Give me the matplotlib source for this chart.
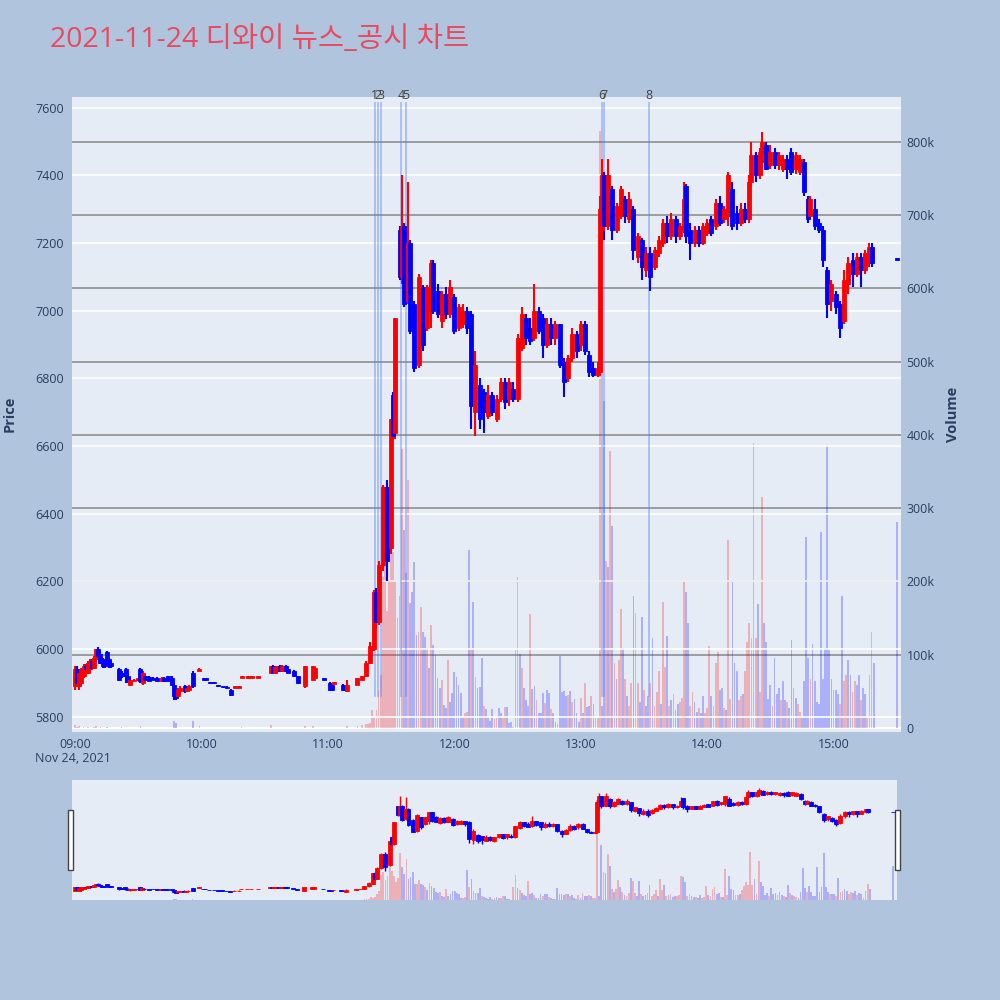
import matplotlib
matplotlib.use("Agg")
import matplotlib.pyplot as plt
from matplotlib.patches import Rectangle
import matplotlib.transforms as mtransforms

plt.rcParams['font.family'] = ['Open Sans', 'Noto Sans CJK KR', 'DejaVu Sans']

title = "2021-11-24 디와이 뉴스_공시 차트"

# 1분봉 (09:00 부터 지난 분) - 오전 한산한 구간
am_t = [0, 1, 2, 3, 4, 5, 6, 7, 8, 9,
        10, 11, 12, 13, 14, 15, 16, 17, 21, 22,
        24, 25, 26, 28, 30, 31, 32, 33, 35, 37,
        39, 41, 42, 44, 46, 47, 48, 49, 50, 52,
        53, 54, 56, 59, 61, 62, 64, 66, 68, 70,
        72, 74, 76, 78, 79, 82, 84, 87, 93, 94,
        95, 96, 97, 98, 99, 100, 101, 104, 106, 109,
        113, 114, 118, 121, 122, 123, 127, 128, 129]
am_o = [5890, 5940, 5890, 5900, 5920, 5950, 5930, 5940, 5965, 5945,
        5970, 6000, 5985, 5970, 5960, 5990, 5970, 5960, 5940, 5930,
        5940, 5920, 5895, 5905, 5908, 5940, 5900, 5920, 5918, 5915,
        5915, 5905, 5915, 5920, 5915, 5895, 5870, 5860, 5875, 5890,
        5875, 5880, 5930, 5935, 5912, 5912, 5902, 5902, 5892, 5890,
        5888, 5880, 5886, 5886, 5916, 5916, 5916, 5916, 5930, 5950,
        5930, 5935, 5950, 5935, 5935, 5950, 5940, 5935, 5920, 5890,
        5910, 5915, 5912, 5900, 5895, 5898, 5895, 5885, 5875]
am_h = [5950, 5950, 5940, 5945, 5955, 5955, 5965, 5970, 5970, 5980,
        6000, 6005, 5990, 5975, 5965, 5995, 5975, 5965, 5945, 5935,
        5945, 5925, 5915, 5912, 5915, 5945, 5935, 5925, 5920, 5918,
        5918, 5918, 5918, 5922, 5920, 5900, 5875, 5885, 5890, 5895,
        5890, 5895, 5935, 5945, 5914, 5914, 5904, 5904, 5894, 5892,
        5890, 5882, 5892, 5892, 5922, 5922, 5922, 5922, 5950, 5952,
        5950, 5950, 5952, 5952, 5950, 5952, 5942, 5938, 5922, 5950,
        5950, 5948, 5914, 5902, 5898, 5904, 5898, 5888, 5910]
am_l = [5880, 5890, 5880, 5890, 5915, 5935, 5925, 5935, 5940, 5940,
        5965, 5975, 5955, 5945, 5945, 5955, 5945, 5945, 5905, 5915,
        5900, 5900, 5890, 5905, 5905, 5900, 5895, 5905, 5905, 5908,
        5905, 5903, 5903, 5905, 5890, 5850, 5850, 5855, 5870, 5870,
        5872, 5878, 5885, 5935, 5908, 5908, 5898, 5898, 5888, 5886,
        5884, 5860, 5885, 5885, 5915, 5915, 5915, 5915, 5928, 5930,
        5928, 5932, 5935, 5932, 5932, 5935, 5928, 5918, 5898, 5885,
        5908, 5912, 5908, 5878, 5878, 5896, 5878, 5876, 5872]
am_c = [5940, 5900, 5930, 5940, 5950, 5940, 5960, 5965, 5945, 5975,
        6000, 5980, 5960, 5950, 5950, 5960, 5950, 5950, 5910, 5920,
        5920, 5905, 5910, 5910, 5915, 5905, 5930, 5910, 5905, 5910,
        5905, 5915, 5905, 5905, 5895, 5860, 5855, 5880, 5885, 5875,
        5885, 5890, 5890, 5942, 5910, 5910, 5900, 5900, 5890, 5888,
        5885, 5865, 5890, 5890, 5920, 5920, 5920, 5920, 5950, 5930,
        5948, 5950, 5935, 5950, 5948, 5935, 5930, 5920, 5900, 5950,
        5950, 5945, 5910, 5880, 5880, 5902, 5880, 5878, 5895]

# 오후 급등 이후 구간 (대략 2분 간격으로 읽음), 390 = 15:30 동시호가
pm_t = [134, 136, 138, 140, 142, 143, 144, 146, 148, 150,
        151, 152, 154, 155, 156, 158, 159, 161, 163, 165,
        167, 169, 170, 172, 174, 176, 178, 180, 182, 184,
        186, 188, 190, 192, 194, 196, 198, 200, 202, 204,
        206, 208, 210, 212, 214, 216, 218, 220, 222, 224,
        226, 228, 230, 232, 234, 236, 238, 240, 242, 244,
        246, 248, 249, 250, 251, 253, 255, 257, 259, 261,
        263, 265, 267, 269, 271, 273, 275, 277, 279, 281,
        283, 285, 287, 289, 290, 292, 294, 296, 298, 300,
        302, 304, 306, 308, 310, 312, 314, 316, 318, 320,
        321, 323, 325, 326, 328, 330, 332, 334, 336, 338,
        340, 342, 344, 346, 348, 349, 351, 353, 355, 357,
        359, 361, 363, 365, 367, 369, 371, 373, 375, 377,
        378, 390]
pm_o = [5895, 5910, 5920, 5960, 6000, 6170, 6080, 6250, 6480, 6300,
        6750, 6640, 7240, 7100, 7250, 7030, 7200, 7020, 6840, 7070,
        6950, 7000, 7140, 7060, 6970, 7050, 6990, 7040, 6950, 6960,
        7000, 6990, 6700, 6780, 6760, 6690, 6750, 6680, 6740, 6790,
        6740, 6770, 6740, 6890, 6980, 6950, 6920, 7000, 6980, 6900,
        6960, 6920, 6960, 6850, 6800, 6860, 6930, 6900, 6960, 6870,
        6830, 6810, 6820, 7240, 7400, 7250, 7360, 7240, 7280, 7330,
        7270, 7300, 7160, 7210, 7120, 7170, 7130, 7170, 7200, 7260,
        7220, 7270, 7220, 7240, 7370, 7240, 7200, 7240, 7200, 7230,
        7270, 7250, 7320, 7270, 7280, 7360, 7290, 7260, 7300, 7270,
        7380, 7460, 7400, 7440, 7490, 7430, 7470, 7430, 7420, 7450,
        7470, 7420, 7410, 7440, 7330, 7280, 7300, 7260, 7240, 7120,
        7030, 7050, 7020, 6970, 7080, 7150, 7110, 7160, 7120, 7140,
        7190, 7155]
pm_h = [5915, 5922, 5965, 6020, 6175, 6180, 6260, 6485, 6500, 6680,
        6760, 6980, 7250, 7400, 7260, 7380, 7210, 7030, 7110, 7075,
        7075, 7150, 7150, 7080, 7060, 7070, 7090, 7050, 7020, 7020,
        7010, 7000, 6880, 6800, 6770, 6780, 6760, 6750, 6800, 6800,
        6800, 6790, 6930, 7010, 6990, 6980, 7080, 7010, 6990, 6980,
        6980, 6970, 6960, 6860, 6870, 6950, 6940, 6970, 6970, 6880,
        6850, 6850, 7340, 7450, 7410, 7450, 7370, 7320, 7370, 7340,
        7350, 7310, 7230, 7215, 7190, 7190, 7190, 7220, 7270, 7280,
        7290, 7280, 7260, 7380, 7375, 7260, 7250, 7250, 7260, 7270,
        7280, 7330, 7340, 7310, 7410, 7380, 7310, 7320, 7320, 7400,
        7500, 7470, 7480, 7530, 7500, 7490, 7480, 7470, 7460, 7460,
        7480, 7470, 7460, 7450, 7340, 7340, 7330, 7270, 7250, 7130,
        7090, 7060, 7030, 7120, 7160, 7170, 7170, 7170, 7180, 7200,
        7200, 7155]
pm_l = [5893, 5908, 5918, 5955, 5995, 6060, 6070, 6230, 6200, 6280,
        6620, 6620, 7090, 7080, 7010, 7020, 6930, 6820, 6830, 6880,
        6940, 6950, 6990, 6980, 6950, 6975, 6980, 6930, 6940, 6950,
        6930, 6650, 6630, 6650, 6640, 6680, 6690, 6670, 6730, 6710,
        6720, 6730, 6730, 6880, 6900, 6900, 6910, 6930, 6860, 6890,
        6900, 6900, 6830, 6745, 6790, 6850, 6860, 6880, 6870, 6805,
        6805, 6805, 6810, 7200, 7210, 7240, 7210, 7230, 7270, 7260,
        7260, 7150, 7140, 7090, 7100, 7060, 7120, 7160, 7190, 7200,
        7210, 7200, 7210, 7230, 7200, 7150, 7190, 7190, 7195, 7220,
        7220, 7240, 7250, 7260, 7250, 7240, 7240, 7250, 7260, 7260,
        7370, 7380, 7390, 7400, 7415, 7420, 7420, 7415, 7410, 7390,
        7400, 7405, 7400, 7340, 7260, 7270, 7240, 7230, 7130, 6980,
        7000, 6990, 6920, 6960, 7050, 7070, 7100, 7070, 7110, 7130,
        7130, 7150]
pm_c = [5915, 5920, 5960, 6010, 6170, 6080, 6250, 6480, 6260, 6680,
        6630, 6980, 7100, 7250, 7020, 7200, 6940, 6830, 7100, 6900,
        7070, 7140, 7000, 6990, 7050, 6990, 7070, 6940, 7010, 7000,
        6950, 6720, 6840, 6680, 6700, 6750, 6700, 6740, 6790, 6730,
        6790, 6740, 6920, 6990, 6920, 6910, 7000, 6940, 6900, 6960,
        6920, 6960, 6840, 6790, 6860, 6930, 6880, 6960, 6880, 6820,
        6810, 6830, 7300, 7400, 7250, 7400, 7240, 7310, 7360, 7280,
        7330, 7180, 7220, 7130, 7170, 7100, 7180, 7210, 7260, 7220,
        7270, 7220, 7250, 7330, 7220, 7200, 7240, 7200, 7250, 7260,
        7230, 7320, 7260, 7300, 7400, 7250, 7260, 7300, 7270, 7380,
        7460, 7400, 7470, 7500, 7420, 7470, 7430, 7460, 7450, 7420,
        7410, 7460, 7450, 7350, 7270, 7330, 7250, 7240, 7150, 7020,
        7080, 7010, 6950, 7090, 7140, 7110, 7160, 7120, 7170, 7190,
        7140, 7150]

# 거래량 (천주) - 오전 드문 체결
vol_am_t = [0, 1, 2, 4, 6, 9, 10, 12, 15, 22, 31, 47, 48, 56, 59, 79, 93, 109,
            113, 129, 134, 136, 138, 139]
vol_am_k = [4, 2, 3, 2, 2, 2, 3, 2, 2, 2, 3, 9, 7, 10, 3, 2, 4, 3, 3, 3, 3, 4, 5, 6]
vol_am_dir = "rbrrrrrbbbbbbbrrrrrrrrrr"

# 거래량 (천주) - 11:20(140분)부터 15:19(379분)까지 매분
vol_start = 140
vol_k = [7, 25, 15, 25, 52, 72, 206, 225, 160, 200,
         375, 240, 200, 150, 180, 380, 270, 212, 338, 170,
         186, 226, 127, 131, 165, 131, 124, 109, 82, 140,
         113, 100, 68, 55, 65, 31, 27, 93, 36, 48,
         77, 70, 59, 48, 15, 20, 22,
         243, 109, 172, 70, 55, 56, 96, 30, 26, 14,
         10, 26, 12, 15, 27, 20, 14, 29, 29, 7,
         8, 2, 107, 206, 101, 82, 55, 38, 30, 156,
         53, 57, 38, 20, 20, 48, 34, 52, 48, 26,
         20, 8, 5, 98, 49, 51, 43, 45, 50, 36,
         39, 20, 8, 41, 20, 61, 29, 30, 44, 33,
         14, 14,
         815, 30, 446, 228, 220, 378, 276, 89, 67, 93,
         162, 109, 67, 44, 30, 61, 180, 157, 61, 35,
         152, 52, 30, 44, 61, 123, 30, 49, 78, 33,
         172, 83, 126, 30, 38, 46, 25, 33, 36, 41,
         199, 186, 143, 30, 49, 36, 22, 27, 20, 44,
         20, 27, 112, 44, 30, 89, 104, 52, 55, 27,
         25, 257, 40, 199, 89, 78, 38, 44, 46, 78,
         117, 143, 123, 389, 123, 169, 49, 315, 143, 117,
         40, 59, 30, 96, 46, 55, 38, 64, 38, 36,
         27, 120, 55, 41, 33, 22, 15, 64, 260, 96,
         67, 115, 64, 36, 33, 268, 67, 109, 386, 106,
         67, 52, 52, 46, 33, 180, 64, 72, 93, 72,
         49, 64, 59, 72, 38, 55, 46, 15, 72, 131,
         89]
vol_dir = ("rrrrrrrrrr" "rrrrrrbbrb" "bbbrrbbrbr" "bbbbrbbrbb" "bbbbbrr"
           "brbrbbbrbb" "bbrrbbrrbb" "brrrbrbbbr" "bbrbbbrbbr" "bbrbbbbrbr"
           "bbbrbrbbrb" "rr"
           "rbbrbrbrbr" "rbrbrrbrrb" "brbbrbrrrb" "rrbrbrbbrr" "rbbrrbbrbb"
           "rrrbrrrbbr" "brrbbbrrbr" "rrrrrbrrbb" "bbrbbbrbbr" "bbrbrrbbbb"
           "rbbbbbbbbb" "brbbrbrrbb" "rrbbrbbrrr" "b")
auction_t = 390
auction_k = 281
auction_dir = "b"

# 뉴스/공시 시각
news_time = ["11:22:18", "11:23:42", "11:25:12", "11:34:36", "11:37:00",
             "13:10:00", "13:11:00", "13:32:18"]
news_label = ["1", "2", "3", "4", "5", "6", "7", "8"]

hour_ticks = ["09:00", "10:00", "11:00", "12:00", "13:00", "14:00", "15:00"]
price_ticks = [5800, 6000, 6200, 6400, 6600, 6800, 7000, 7200, 7400, 7600]
vol_ticks = [0, 100, 200, 300, 400, 500, 600, 700, 800]


def to_min(s):
    parts = [int(p) for p in s.split(":")]
    m = (parts[0] - 9) * 60 + parts[1]
    if len(parts) > 2:
        m += parts[2] / 60
    return m


t = am_t + pm_t
o = am_o + pm_o
h = am_h + pm_h
l = am_l + pm_l
c = am_c + pm_c
assert len(t) == len(o) == len(h) == len(l) == len(c)

vt = vol_am_t + list(range(vol_start, vol_start + len(vol_k))) + [auction_t]
vk = vol_am_k + vol_k + [auction_k]
vd = vol_am_dir + vol_dir + auction_dir
assert len(vt) == len(vk) == len(vd)

UP = '#ff0000'
DOWN = '#0000ff'
UP_V = (1, 0, 0, 0.25)
DOWN_V = (0, 0, 1, 0.25)
BG = '#e5ecf6'
TXT = '#2a3f5f'


def candles(ax, width, lw):
    cols = [UP if cc >= oo else DOWN for oo, cc in zip(o, c)]
    ax.vlines(t, l, h, colors=cols, lw=lw, zorder=3)
    bottoms = [min(oo, cc) for oo, cc in zip(o, c)]
    heights = [max(abs(cc - oo), 4) for oo, cc in zip(o, c)]
    ax.bar(t, heights, bottom=bottoms, width=width, color=cols,
           edgecolor=cols, linewidth=0.6, zorder=4)


def volumes(ax, width):
    cols = [UP_V if d == 'r' else DOWN_V for d in vd]
    ax.bar(vt, [k * 1000 for k in vk], width=width, color=cols, linewidth=0)


fig = plt.figure(figsize=(10, 10), dpi=100, facecolor='#b0c4de')

# 메인 차트
ax_p = fig.add_axes([0.072, 0.268, 0.829, 0.635])
ax_v = ax_p.twinx()
ax_p.set_zorder(ax_v.get_zorder() + 1)
ax_p.patch.set_visible(False)
ax_v.patch.set_visible(True)
ax_v.patch.set_facecolor(BG)

volumes(ax_v, 0.85)
for k in vol_ticks[1:]:
    ax_v.axhline(k * 1000, color='#8f8f8f', lw=1.2, zorder=0)
ax_v.axhline(0, color='white', lw=1.5, zorder=0)
ax_v.set_ylim(-5500, 861000)
ax_v.set_yticks([k * 1000 for k in vol_ticks])
ax_v.set_yticklabels(["0" if k == 0 else f"{k}k" for k in vol_ticks])

for p in price_ticks:
    ax_p.axhline(p, color='white', lw=1.2, zorder=0)
candles(ax_p, 1.9, 1.5)

trans = mtransforms.blended_transform_factory(ax_p.transData, ax_p.transAxes)
for nt, lab in zip(news_time, news_label):
    x = to_min(nt)
    ax_p.plot([x, x], [5860, 7615], color=(0.35, 0.5, 1.0, 0.45), lw=1.3, zorder=2)
    ax_p.text(x, 1.002, lab, transform=trans, ha='center', va='center',
              fontsize=9, color='#444444', clip_on=False)

ax_p.set_ylim(5755, 7632)
ax_p.set_yticks(price_ticks)
ax_p.set_yticklabels([str(p) for p in price_ticks])
ax_p.set_xlim(-1.5, 392)
ax_p.set_xticks([to_min(s) for s in hour_ticks])
ax_p.set_xticklabels(hour_ticks)

for ax in (ax_p, ax_v):
    for s in ax.spines.values():
        s.set_visible(False)
    ax.tick_params(length=0, labelsize=9, colors=TXT)
ax_p.tick_params(axis='y', pad=6)
ax_v.tick_params(axis='y', pad=4)
ax_p.tick_params(axis='x', pad=4)

fig.text(0.073, 0.242, "Nov 24, 2021", fontsize=9, color=TXT, ha='center', va='center')
fig.text(0.010, 0.586, "Price", rotation=90, fontsize=10.5, color=TXT,
         ha='center', va='center', fontweight='bold')
fig.text(0.953, 0.586, "Volume", rotation=90, fontsize=10.5, color=TXT,
         ha='center', va='center', fontweight='bold')
fig.text(0.05, 0.960, title, fontsize=20.5, color='#e84a5f', ha='left', va='center')

# 레인지 슬라이더
rs_p = fig.add_axes([0.072, 0.100, 0.825, 0.120])
rs_v = rs_p.twinx()
rs_p.set_zorder(rs_v.get_zorder() + 1)
rs_p.patch.set_visible(False)
rs_v.patch.set_visible(True)
rs_v.patch.set_facecolor(BG)
volumes(rs_v, 0.85)
candles(rs_p, 1.9, 1.0)
rs_v.set_ylim(0, 980000)
rs_p.set_ylim(5739, 7659)
rs_p.set_xlim(-1.5, 392)
for ax in (rs_p, rs_v):
    ax.set_xticks([])
    ax.set_yticks([])
    for s in ax.spines.values():
        s.set_visible(False)

for hx in (0.068, 0.895):
    fig.add_artist(Rectangle((hx, 0.130), 0.005, 0.060, transform=fig.transFigure,
                             facecolor='white', edgecolor='#444444', lw=1))

fig.savefig("out.png", dpi=100, facecolor=fig.get_facecolor())
